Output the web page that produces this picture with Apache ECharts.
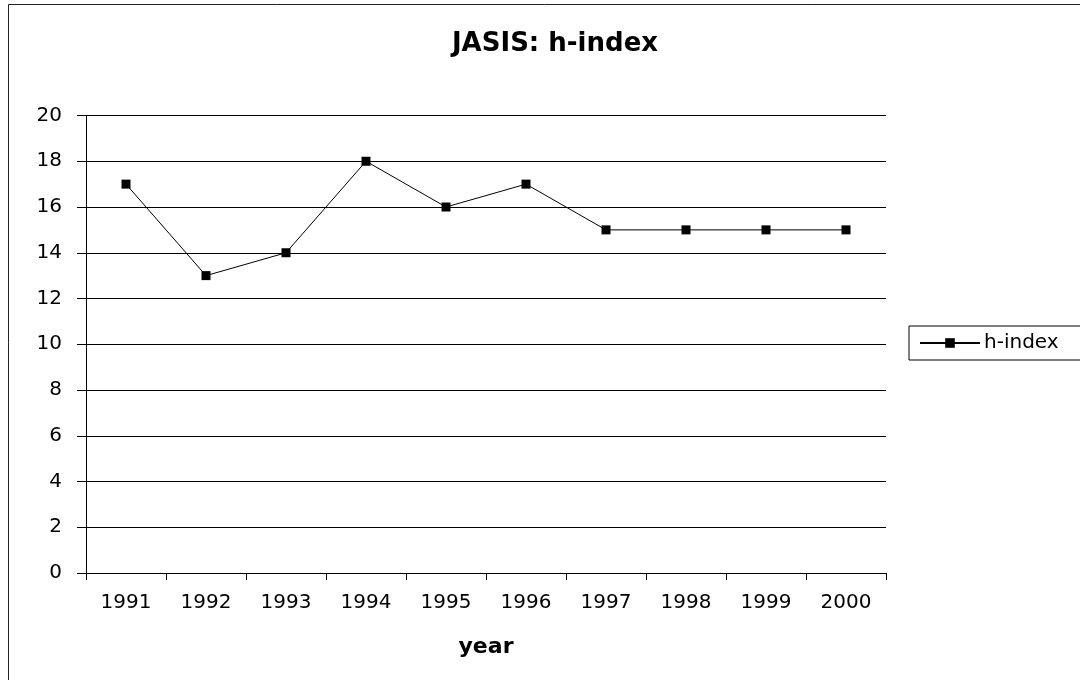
<!DOCTYPE html>
<html>
<head>
<meta charset="utf-8">
<script src="https://cdn.jsdelivr.net/npm/echarts@6/dist/echarts.min.js"></script>
<style>
  html, body { margin: 0; padding: 0; background: #fff; }
  #chart { width: 1080px; height: 680px; }
</style>
</head>
<body>
<div id="chart"></div>
<script>
// data
const years = ['1991', '1992', '1993', '1994', '1995', '1996', '1997', '1998', '1999', '2000'];
const hIndex = [17, 13, 14, 18, 16, 17, 15, 15, 15, 15];

const font = '"DejaVu Sans", "Liberation Sans", Arial, sans-serif';

let chart = echarts.init(document.getElementById('chart'), null, {renderer: 'canvas'});

chart.setOption({
    animation: false,
    backgroundColor: '#fff',
    title: {
        text: 'JASIS: h-index',
        left: 550,
        top: 26,
        textAlign: 'center',
        textStyle: {
            fontFamily: font,
            fontSize: 26,
            fontWeight: 'bold',
            color: '#000'
        }
    },
    // outer chart border (right/bottom run off the picture)
    graphic: [{
        type: 'rect',
        shape: {x: 8.5, y: 4.5, width: 1090, height: 690},
        style: {fill: 'none', stroke: '#222', lineWidth: 1},
        silent: true
    }],
    legend: {
        left: 909,
        top: 326,
        orient: 'vertical',
        padding: [7, 30, 7, 10],
        borderColor: '#000',
        borderWidth: 1,
        itemWidth: 60,
        itemHeight: 12,
        itemGap: 0,
        textStyle: {fontFamily: font, fontSize: 20, color: '#000', padding: [0, 0, 0, -1]},
        data: ['h-index']
    },
    grid: {
        left: 86,
        right: 194,
        top: 115.5,
        bottom: 107
    },
    xAxis: {
        type: 'category',
        data: years,
        boundaryGap: true,
        name: 'year',
        nameLocation: 'middle',
        nameGap: 63,
        nameTextStyle: {fontFamily: font, fontSize: 22, fontWeight: 'bold', color: '#000'},
        axisLine: {lineStyle: {color: '#000', width: 1}},
        axisTick: {show: true, length: 7, lineStyle: {color: '#000'}},
        axisLabel: {fontFamily: font, fontSize: 20, color: '#000', margin: 20},
        splitLine: {show: false}
    },
    yAxis: {
        type: 'value',
        min: 0,
        max: 20,
        interval: 2,
        axisLine: {show: true, lineStyle: {color: '#000', width: 1}},
        axisTick: {show: true, length: 9, lineStyle: {color: '#000'}},
        axisLabel: {fontFamily: font, fontSize: 20, color: '#000', margin: 24},
        splitLine: {show: true, lineStyle: {color: '#000', width: 1}}
    },
    series: [{
        name: 'h-index',
        type: 'line',
        data: hIndex,
        symbol: 'rect',
        symbolSize: 9,
        lineStyle: {color: '#000', width: 1},
        itemStyle: {color: '#000'}
    }]
});
</script>
</body>
</html>
